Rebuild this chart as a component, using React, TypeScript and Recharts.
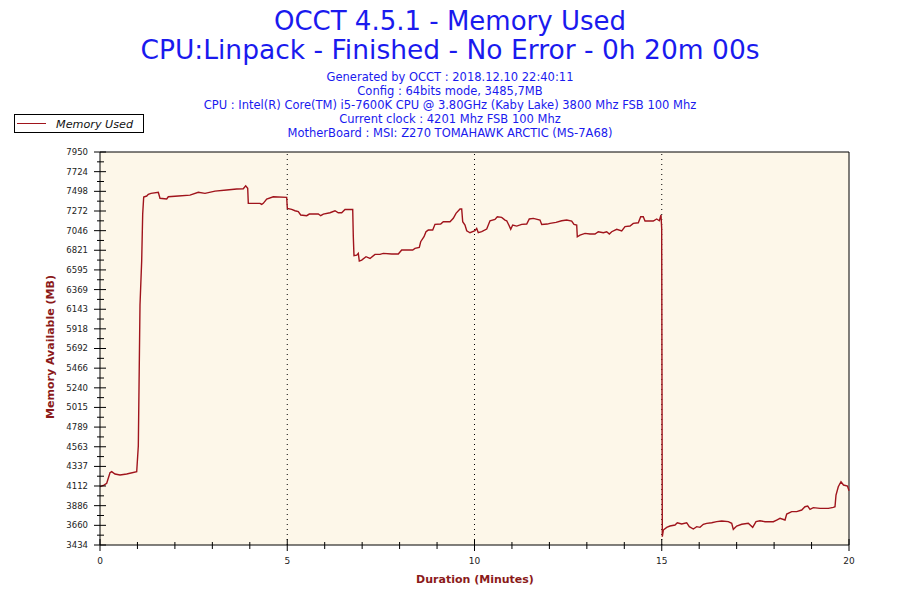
import { LineChart, Line, XAxis, YAxis, CartesianGrid, ReferenceLine } from 'recharts';

// time in minutes / memory used in MB
const minutes = [
  0, 0.107, 0.179, 0.267, 0.312, 0.4, 0.534, 0.713, 0.98, 1.023, 1.068, 1.113, 1.14, 1.167,
  1.247, 1.29, 1.362, 1.557, 1.602, 1.781, 1.824, 2.091, 2.403, 2.625, 2.804, 3.071, 3.383,
  3.65, 3.826, 3.89, 3.944, 3.96, 4.272, 4.318, 4.36, 4.451, 4.627, 4.985, 5.002, 5.119,
  5.207, 5.295, 5.359, 5.519, 5.589, 5.829, 5.893, 5.963, 6.142, 6.275, 6.363, 6.454, 6.542,
  6.748, 6.764, 6.782, 6.854, 6.897, 6.924, 6.988, 7.103, 7.21, 7.343, 7.477, 7.565, 7.789,
  7.965, 8.056, 8.35, 8.411, 8.526, 8.563, 8.652, 8.705, 8.766, 8.884, 8.945, 9.097, 9.167,
  9.346, 9.434, 9.506, 9.613, 9.658, 9.685, 9.746, 9.792, 9.88, 10.013, 10.059, 10.101,
  10.192, 10.326, 10.414, 10.547, 10.609, 10.726, 10.814, 10.86, 10.929, 10.967, 11.02,
  11.127, 11.26, 11.394, 11.463, 11.57, 11.749, 11.795, 11.944, 12.016, 12.176, 12.328,
  12.462, 12.595, 12.657, 12.729, 12.745, 12.817, 12.951, 13.084, 13.218, 13.306, 13.44,
  13.53, 13.6, 13.664, 13.797, 13.931, 14.019, 14.152, 14.24, 14.374, 14.438, 14.507,
  14.553, 14.774, 14.865, 14.935, 14.98, 14.998, 15.015, 15.042, 15.132, 15.22, 15.354,
  15.415, 15.533, 15.666, 15.736, 15.843, 15.934, 16.021, 16.11, 16.2, 16.334, 16.467,
  16.601, 16.777, 16.868, 16.911, 17.001, 17.135, 17.311, 17.428, 17.517, 17.623, 17.757,
  17.979, 18.069, 18.158, 18.291, 18.337, 18.47, 18.603, 18.737, 18.825, 18.897, 18.959,
  19.047, 19.226, 19.449, 19.582, 19.626, 19.653, 19.714, 19.786, 19.853, 19.96, 20,
];

const memoryUsed = [
  4104, 4123, 4143, 4265, 4277, 4250, 4238, 4250, 4276, 4571, 6192, 6697, 7237, 7433,
  7444, 7464, 7475, 7487, 7418, 7410, 7436, 7444, 7455, 7487, 7475, 7501, 7513,
  7524, 7528, 7562, 7532, 7360, 7360, 7348, 7360, 7410, 7436, 7429, 7302, 7291,
  7275, 7264, 7226, 7218, 7237, 7237, 7218, 7237, 7252, 7275, 7252, 7252, 7290,
  7290, 6976, 6758, 6765, 6785, 6697, 6708, 6747, 6727, 6774, 6774, 6785, 6778,
  6778, 6824, 6824, 6843, 6854, 6919, 6976, 7034, 7053, 7053, 7119, 7122, 7149,
  7149, 7188, 7245, 7295, 7295, 7149, 7111, 7045, 7022, 7045, 7072, 7022,
  7034, 7065, 7160, 7176, 7206, 7199, 7168, 7160, 7099, 7061, 7111,
  7099, 7118, 7122, 7180, 7187, 7168, 7118, 7122, 7130, 7141, 7160,
  7168, 7157, 7118, 7111, 6976, 6995, 7015, 7007, 7007, 7034, 7023,
  7034, 7007, 7034, 7061, 7042, 7092, 7099, 7130, 7137, 7206, 7206,
  7157, 7157, 7180, 7160, 7226, 7073, 3529, 3606, 3637, 3652, 3664,
  3690, 3675, 3690, 3645, 3618, 3645, 3637, 3672, 3683, 3690, 3702,
  3710, 3702, 3683, 3614, 3652, 3672, 3683, 3637, 3702, 3713, 3702,
  3702, 3721, 3740, 3721, 3790, 3817, 3817, 3836, 3874, 3882, 3844,
  3863, 3855, 3855, 3867, 3874, 4008, 4104, 4161, 4123, 4112, 4058,
];

const yTickLabels = [
  3434, 3660, 3886, 4112, 4337, 4563, 4789, 5015, 5240, 5466, 5692, 5918, 6143, 6369,
  6595, 6821, 7046, 7272, 7498, 7724, 7950,
];
const xTicks = [0, 1, 2, 3, 4, 5, 6, 7, 8, 9, 10, 11, 12, 13, 14, 15, 16, 17, 18, 19, 20];
const xLabelled = [0, 5, 10, 15, 20];
const xDotted = [5, 10, 15];

const subtitles = [
  'Generated by OCCT : 2018.12.10 22:40:11',
  'Config : 64bits mode, 3485,7MB',
  'CPU : Intel(R) Core(TM) i5-7600K CPU @ 3.80GHz (Kaby Lake) 3800 Mhz FSB 100 Mhz',
  'Current clock : 4201 Mhz FSB 100 Mhz',
  'MotherBoard : MSI: Z270 TOMAHAWK ARCTIC (MS-7A68)',
];

const data = minutes.map((m, i) => ({ minute: m, used: memoryUsed[i] }));

// minor ticks sit halfway between the labelled ones
const yMinor = yTickLabels.slice(1).map((v, i) => (v + yTickLabels[i]) / 2);
const yTicks = [...yTickLabels, ...yMinor].sort((a, b) => a - b);

const FONT = '"DejaVu Sans", Verdana, sans-serif';
const LINE = '#a0141c';
const BLUE = '#1a1aee';

const YTick = (props: any) => {
  const { x, y, payload } = props;
  const major = yTickLabels.includes(payload.value);
  return (
    <g>
      <line x1={major ? x - 6 : x - 3} x2={major ? x + 6 : x + 4} y1={y} y2={y} stroke="#000" />
      {major && (
        <text x={x - 12} y={y} dy="0.35em" textAnchor="end" fontSize={8.5} fontFamily={FONT} fill="#222">
          {payload.value}
        </text>
      )}
    </g>
  );
};

const XTick = (props: any) => {
  const { x, y, payload } = props;
  const major = xLabelled.includes(payload.value);
  return (
    <g>
      <line x1={x} x2={x} y1={major ? y - 6 : y - 3} y2={major ? y + 6 : y + 4} stroke="#000" />
      {major && (
        <text x={x} y={y + 19} textAnchor="middle" fontSize={9} fontFamily={FONT} fill="#222">
          {payload.value}
        </text>
      )}
    </g>
  );
};

export default function App() {
  return (
    <div style={{ position: 'absolute', left: 0, top: 0, width: 900, height: 600, background: '#fff' }}>
      <LineChart width={900} height={600} data={data} margin={{ top: 152, right: 51, bottom: 25, left: 10 }}>
        <CartesianGrid fill="#fdf7e9" horizontal={false} vertical={false} />
        <XAxis
          dataKey="minute"
          type="number"
          domain={[0, 20]}
          ticks={xTicks}
          interval={0}
          height={30}
          tickSize={0}
          tickMargin={0}
          tickLine={false}
          tick={<XTick />}
          axisLine={{ stroke: '#000' }}
        />
        <YAxis
          type="number"
          domain={[3434, 7950]}
          ticks={yTicks}
          interval={0}
          width={90}
          tickSize={0}
          tickMargin={0}
          tickLine={false}
          tick={<YTick />}
          axisLine={{ stroke: '#000' }}
          allowDataOverflow
        />
        {xDotted.map((v) => (
          <ReferenceLine key={v} x={v} stroke="#000" strokeDasharray="1 4" />
        ))}
        <ReferenceLine y={7950} stroke="#000" />
        <ReferenceLine x={20} stroke="#000" />
        <Line
          type="linear"
          dataKey="used"
          stroke={LINE}
          strokeWidth={1.4}
          dot={false}
          isAnimationActive={false}
        />
      </LineChart>
      <svg width={900} height={600} style={{ position: 'absolute', left: 0, top: 0, pointerEvents: 'none' }}>
        <text x={450} y={30} textAnchor="middle" fontSize={26} fontFamily={FONT} fill={BLUE}>
          OCCT 4.5.1 - Memory Used
        </text>
        <text x={450} y={59} textAnchor="middle" fontSize={26.5} fontFamily={FONT} fill={BLUE}>
          CPU:Linpack - Finished - No Error - 0h 20m 00s
        </text>
        {subtitles.map((s, i) => (
          <text key={s} x={450} y={81 + i * 14} textAnchor="middle" fontSize={11.5} fontFamily={FONT} fill={BLUE}>
            {s}
          </text>
        ))}
        <rect x={14.5} y={114.5} width={129} height={18} fill="#fff" stroke="#000" />
        <line x1={17} x2={46} y1={123.5} y2={123.5} stroke={LINE} />
        <text x={56} y={127.5} fontSize={11.2} fontStyle="italic" fontFamily={FONT} fill="#111">
          Memory Used
        </text>
        <text
          x={0}
          y={0}
          transform="translate(54 347) rotate(-90)"
          textAnchor="middle"
          fontSize={11}
          fontWeight="bold"
          fontFamily={FONT}
          fill="#8b1a1a"
        >
          Memory Available (MB)
        </text>
        <text x={475} y={583} textAnchor="middle" fontSize={11} fontWeight="bold" fontFamily={FONT} fill="#8b1a1a">
          Duration (Minutes)
        </text>
      </svg>
    </div>
  );
}
